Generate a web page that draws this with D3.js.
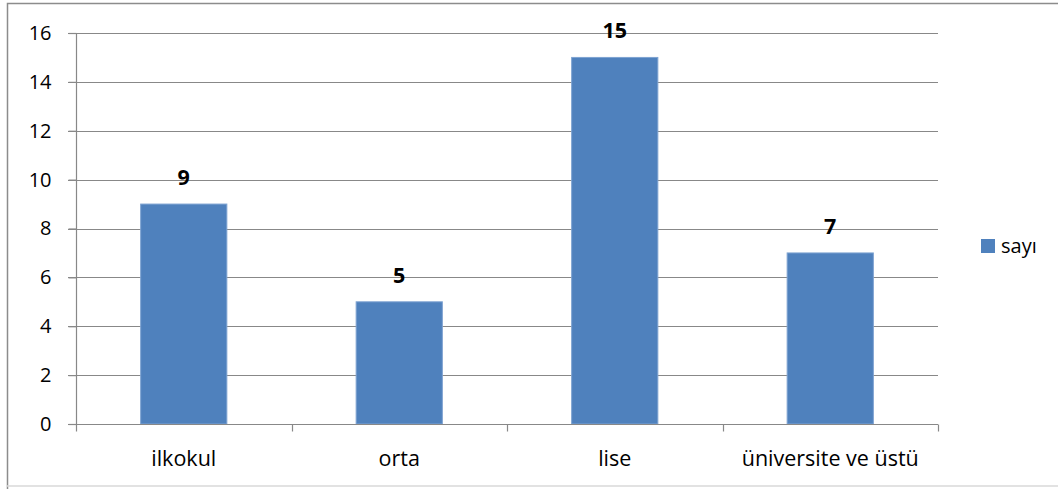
<!DOCTYPE html>
<html><head><meta charset="utf-8">
<script src="https://cdn.jsdelivr.net/npm/d3@7"></script>
<style>body{margin:0;background:#fff}svg{display:block}text{font-family:"Open Sans","Liberation Sans",sans-serif}</style>
</head><body><svg id="c" width="1058" height="489"></svg>
<script>
const categories = ["ilkokul", "orta", "lise", "üniversite ve üstü"];
const values = [9, 5, 15, 7];
const yTicks = [0, 2, 4, 6, 8, 10, 12, 14, 16];
const seriesName = "sayı";

const svg = d3.select("#c");
// outer border
svg.append("path").attr("d", "M7.5,489 V3.5 H1058").attr("fill","none").attr("stroke","#8c8c8c").attr("stroke-width",1.5);
svg.append("line").attr("x1",7).attr("x2",1058).attr("y1",486).attr("y2",486).attr("stroke","#d9d9d9").attr("stroke-width",1.5);

const L = 76, R = 938, T = 33, B = 424;
const x = d3.scaleBand().domain(categories).range([L, R]).paddingInner(0.6).paddingOuter(0.3);
const y = d3.scaleLinear().domain([0, 16]).range([B, T]);

// gridlines
svg.append("g").selectAll("line").data(yTicks.filter(d=>d>0)).join("line")
  .attr("x1", L-8).attr("x2", R).attr("y1", d=>Math.round(y(d))+0.5).attr("y2", d=>Math.round(y(d))+0.5)
  .attr("stroke", "#888").attr("stroke-width", 1.2);

// bars
svg.append("g").selectAll("rect").data(values).join("rect")
  .attr("x", (d,i)=>x(categories[i])).attr("width", x.bandwidth())
  .attr("y", d=>y(d)).attr("height", d=>B - y(d))
  .attr("fill", "#4f81bd").attr("stroke", "#7ea3d2").attr("stroke-width", 1);

// y axis
const ya = svg.append("g").attr("transform", `translate(${L+0.5},0)`)
  .call(d3.axisLeft(y).tickValues(yTicks).tickSize(8).tickPadding(17).tickFormat(d3.format("d")));
ya.select(".domain").attr("stroke","#888").attr("stroke-width",1.2).attr("d", `M-8,${T+0.5}H0V${B+0.5}`);
ya.selectAll(".tick line").attr("stroke","#888").attr("stroke-width",1.2);
ya.selectAll(".tick text").attr("font-size", 20).attr("fill","#000");

// x axis
const xa = svg.append("g").attr("transform", `translate(0,${B+0.5})`);
xa.append("line").attr("x1", L-8).attr("x2", R).attr("stroke","#888").attr("stroke-width",1.2);
const step = x.step();
const bounds = d3.range(categories.length + 1).map(i => L + i * step);
xa.selectAll("line.t").data(bounds).join("line").attr("class","t")
  .attr("x1", d=>Math.round(d)+0.5).attr("x2", d=>Math.round(d)+0.5).attr("y1",0).attr("y2",7)
  .attr("stroke","#888").attr("stroke-width",1.2);
xa.selectAll("text").data(categories).join("text")
  .attr("x", d=>x(d)+x.bandwidth()/2).attr("y", 41)
  .attr("text-anchor","middle").attr("font-size",21.5).attr("fill","#000").text(d=>d);

// data labels
svg.append("g").selectAll("text").data(values).join("text")
  .attr("x", (d,i)=>x(categories[i])+x.bandwidth()/2).attr("y", d=>y(d)-19)
  .attr("text-anchor","middle").attr("font-size",21.5).attr("font-weight","bold").attr("fill","#000").text(d=>d);

// legend
const lg = svg.append("g").attr("transform","translate(981,239)");
lg.append("rect").attr("width",14).attr("height",14).attr("fill","#4f81bd");
lg.append("text").attr("x",20).attr("y",14).attr("font-size",20).attr("fill","#000").text(seriesName);
</script></body></html>
